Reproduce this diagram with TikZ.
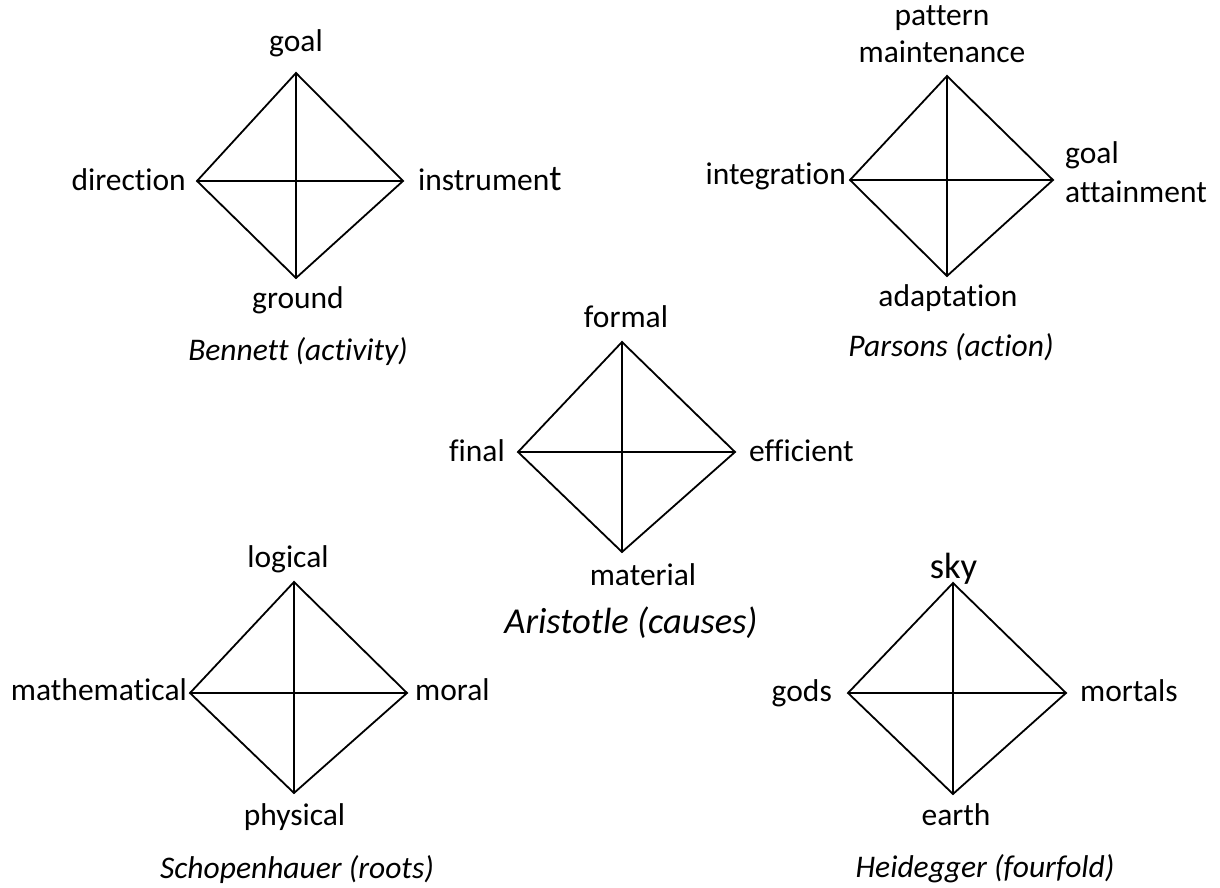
\documentclass[tikz,border=0pt]{standalone}
\usepackage{fontspec}
\setmainfont{Carlito}[Ligatures=NoCommon]
\begin{document}
\begin{tikzpicture}[x=1pt,y=-1pt,
  edge/.style={draw=black,line width=1.8pt,line join=miter},
  lbl/.style={inner sep=0pt,font=\fontsize{31.5}{38}\selectfont},
  captxt/.style={inner sep=0pt,font=\fontsize{31.5}{38}\selectfont\itshape},
  bigcaptxt/.style={inner sep=0pt,font=\fontsize{36.5}{44}\selectfont\itshape}]
\useasboundingbox (0,0) rectangle (1220,888);
% ---------- Bennett ----------
\coordinate (aT) at (296,73);  \coordinate (aL) at (197,181);
\coordinate (aR) at (403,181); \coordinate (aB) at (296,278);
\draw[edge] (aT) -- (aR) -- (aB) -- (aL) -- cycle;
\draw[edge] (aT) -- (aB); \draw[edge] (aL) -- (aR);
\node[lbl,anchor=base] (aTl) at (296,52) {goal};
\node[lbl,anchor=base east] (aLl) at (186,190) {direction};
\node[lbl,anchor=base west] (aRl) at (418,190) {instrumen{\fontsize{36.5}{44}\selectfont t}};
\node[lbl,anchor=base] (aBl) at (298,308) {ground};
\node[captxt,anchor=base] (aC) at (298,360) {Bennett (activity)};
% ---------- Parsons ----------
\coordinate (bT) at (947,76);  \coordinate (bL) at (850,180);
\coordinate (bR) at (1053,180); \coordinate (bB) at (947,276);
\draw[edge] (bT) -- (bR) -- (bB) -- (bL) -- cycle;
\draw[edge] (bT) -- (bB); \draw[edge] (bL) -- (bR);
\node[lbl,anchor=base] (bTl1) at (942,26) {pattern};
\node[lbl,anchor=base] (bTl2) at (942,63) {maintenance};
\node[lbl,anchor=base east] (bLl) at (846,184) {integration};
\node[lbl,anchor=base west] (bRl1) at (1065,164) {goal};
\node[lbl,anchor=base west] (bRl2) at (1065,202) {attainment};
\node[lbl,anchor=base] (bBl) at (948,306) {adaptation};
\node[captxt,anchor=base] (bC) at (951,356) {Parsons (action)};
% ---------- Aristotle ----------
\coordinate (cT) at (622,342);  \coordinate (cL) at (518,452);
\coordinate (cR) at (735,452); \coordinate (cB) at (622,552);
\draw[edge] (cT) -- (cR) -- (cB) -- (cL) -- cycle;
\draw[edge] (cT) -- (cB); \draw[edge] (cL) -- (cR);
\node[lbl,anchor=base] (cTl) at (626,327) {formal};
\node[lbl,anchor=base east] (cLl) at (505,461) {final};
\node[lbl,anchor=base west] (cRl) at (749,461) {efficient};
\node[lbl,anchor=base] (cBl) at (643,585) {material};
\node[bigcaptxt,anchor=base] (cC) at (631,633) {Aristotle (causes)};
% ---------- Schopenhauer ----------
\coordinate (dT) at (294,582);  \coordinate (dL) at (190,693);
\coordinate (dR) at (407,693); \coordinate (dB) at (294,793);
\draw[edge] (dT) -- (dR) -- (dB) -- (dL) -- cycle;
\draw[edge] (dT) -- (dB); \draw[edge] (dL) -- (dR);
\node[lbl,anchor=base] (dTl) at (288,567) {logical};
\node[lbl,anchor=base east] (dLl) at (187,700) {mathematical};
\node[lbl,anchor=base west] (dRl) at (415,700) {moral};
\node[lbl,anchor=base] (dBl) at (294.5,825) {physical};
\node[captxt,anchor=base] (dC) at (297,878) {Schopenhauer (roots)};
% ---------- Heidegger ----------
\coordinate (eT) at (953,583);  \coordinate (eL) at (848,693);
\coordinate (eR) at (1066,693); \coordinate (eB) at (953,794);
\draw[edge] (eT) -- (eR) -- (eB) -- (eL) -- cycle;
\draw[edge] (eT) -- (eB); \draw[edge] (eL) -- (eR);
\node[inner sep=0pt,font=\fontsize{36.5}{44}\selectfont,anchor=base] (eTl) at (953.5,578) {sky};
\node[lbl,anchor=base east] (eLl) at (832,701) {gods};
\node[lbl,anchor=base west] (eRl) at (1080,701) {mortals};
\node[lbl,anchor=base] (eBl) at (956,825) {earth};
\node[captxt,anchor=base] (eC) at (985,877) {Heidegger (fourfold)};
\end{tikzpicture}
\end{document}
